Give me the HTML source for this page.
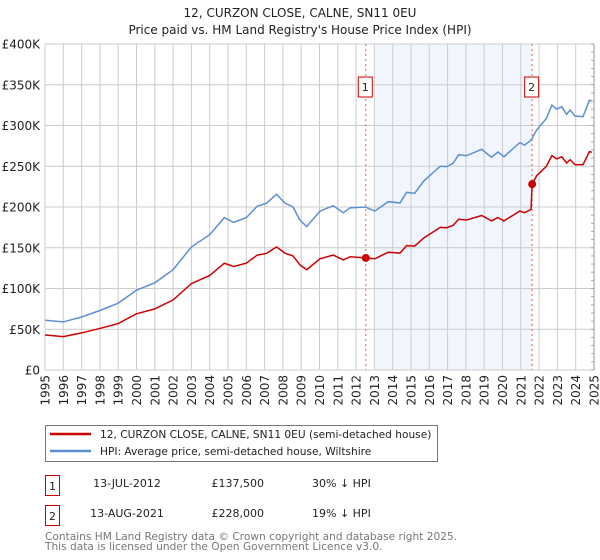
<!DOCTYPE html>
<html><head><meta charset="utf-8"><style>
body{margin:0;background:#fff;}
svg{display:block;font-family:"DejaVu Sans","Liberation Sans",sans-serif;}
</style></head><body>
<svg id="chart" width="600" height="560" viewBox="0 0 600 560">
<text x="300" y="17" text-anchor="middle" font-size="12" fill="#222">12, CURZON CLOSE, CALNE, SN11 0EU</text>
<text x="300" y="34" text-anchor="middle" font-size="12" fill="#222">Price paid vs. HM Land Registry's House Price Index (HPI)</text>
<g id="plot"></g>
<rect x="45.5" y="425.5" width="392" height="36" fill="#fff" stroke="#777"/>
<line x1="50" y1="434" x2="91" y2="434" stroke="#cc0000" stroke-width="2.5"/>
<text x="100" y="438" font-size="10.6" fill="#222">12, CURZON CLOSE, CALNE, SN11 0EU (semi-detached house)</text>
<line x1="50" y1="451" x2="91" y2="451" stroke="#5b8fd4" stroke-width="2.5"/>
<text x="100" y="455" font-size="10.6" fill="#222">HPI: Average price, semi-detached house, Wiltshire</text>
<rect x="45.5" y="475.5" width="14" height="20" fill="#fff" stroke="#cc0000"/>
<text x="52.5" y="490" text-anchor="middle" font-size="11" fill="#222">1</text>
<text x="127" y="487" text-anchor="middle" font-size="11" fill="#222">13-JUL-2012</text>
<text x="264" y="487" text-anchor="end" font-size="11" fill="#222">£137,500</text>
<text x="312" y="487" font-size="11" fill="#222">30% ↓ HPI</text>
<rect x="45.5" y="505.5" width="14" height="20" fill="#fff" stroke="#cc0000"/>
<text x="52.5" y="520" text-anchor="middle" font-size="11" fill="#222">2</text>
<text x="127" y="517" text-anchor="middle" font-size="11" fill="#222">13-AUG-2021</text>
<text x="264" y="517" text-anchor="end" font-size="11" fill="#222">£228,000</text>
<text x="312" y="517" font-size="11" fill="#222">19% ↓ HPI</text>
<text x="45" y="540" font-size="10.6" fill="#777">Contains HM Land Registry data © Crown copyright and database right 2025.</text>
<text x="45" y="550" font-size="10.6" fill="#777">This data is licensed under the Open Government Licence v3.0.</text>
</svg>
<script>
const hpiYears=[1995,1996,1997,1998,1999,2000,2001,2002,2003,2004,2004.8,2005.3,2006,2006.6,2007.1,2007.65,2008.1,2008.55,2008.93,2009.3,2010.03,2010.75,2011.3,2011.67,2012.5,2013.03,2013.75,2014.4,2014.76,2015.2,2015.7,2016.6,2016.95,2017.3,2017.6,2018.04,2018.86,2019.4,2019.75,2020.08,2020.95,2021.2,2021.56,2021.87,2022.4,2022.7,2022.96,2023.24,2023.5,2023.7,2023.96,2024.4,2024.75,2024.88];
const hpiValues=[61,59,65,73,82,98,107,123,151,166,187,181,187,201,204.5,215.6,205,200,184,176,195,201.6,193,199,200,195,206.5,205,218,216.8,232,250,249.5,253.6,264,263,270.8,261,267.5,261.7,279,276,282,294.5,308.8,325,320,323,313.7,319,311.6,310.8,331,330];
const priceYears=[1995,1996,1997,1998,1999,2000,2001,2002,2003,2004,2004.8,2005.3,2006,2006.6,2007.1,2007.65,2008.1,2008.55,2008.93,2009.3,2010.03,2010.75,2011.3,2011.67,2012.53,2013.03,2013.75,2014.4,2014.76,2015.2,2015.7,2016.6,2016.95,2017.3,2017.6,2018.04,2018.86,2019.4,2019.75,2020.08,2020.95,2021.2,2021.56,2021.62,2021.87,2022.4,2022.7,2022.96,2023.24,2023.5,2023.7,2023.96,2024.4,2024.75,2024.88];
const priceValues=[43,41,45.5,51,57,69,75,86,106,116,131,127,131,141,143,151,143.5,140,129,123,136.5,141,135,139,137.5,136.5,144.5,143.5,152.6,152,162,175,174.6,177.5,185,184,189.6,183,187,183,195,193,197,228,238.5,250,263,259,261.6,254,258,252,252,268,267];
const saleYears=[2012.53,2021.62];
const saleValues=[137.5,228];
const saleLabels=["1","2"];
const yTicks=[0,50,100,150,200,250,300,350,400];
const yTickLabels=["£0","£50K","£100K","£150K","£200K","£250K","£300K","£350K","£400K"];
const xTicks=[1995,1996,1997,1998,1999,2000,2001,2002,2003,2004,2005,2006,2007,2008,2009,2010,2011,2012,2013,2014,2015,2016,2017,2018,2019,2020,2021,2022,2023,2024,2025];

const NS="http://www.w3.org/2000/svg";
const X0=45,X1=594,Y0=370,Y1=44;
const xs=v=>X0+(v-1995)/30*(X1-X0);
const ys=v=>Y0-v/400*(Y0-Y1);
const g=document.getElementById('plot');
function mk(t,a){const e=document.createElementNS(NS,t);for(const k in a)e.setAttribute(k,a[k]);g.appendChild(e);return e;}
const sh=mk('rect',{x:xs(2013.05),y:Y1,width:xs(saleYears[1])-xs(2013.05),height:Y0-Y1,fill:'#eef3fc',opacity:0.8});


yTicks.forEach((t,i)=>{
  const l=mk('line',{x1:X0,x2:X1,y1:ys(t),y2:ys(t),stroke:'#cccccc','stroke-width':1});
  
  
  const tx=mk('text',{x:40,y:ys(t)+4.5,'text-anchor':'end','font-size':12,fill:'#222'});
  tx.textContent=yTickLabels[i];
  
  
});
xTicks.forEach(t=>{
  const l=mk('line',{x1:xs(t),x2:xs(t),y1:Y1,y2:Y0,stroke:'#cccccc','stroke-width':1});
  
  
  const tx=mk('text',{x:0,y:0,'text-anchor':'end','font-size':12,fill:'#222',transform:`translate(${xs(t)+4.5},375) rotate(-90)`});
  tx.textContent=t;
  
  
});
for(let v=0;v<=400;v+=10){const l=mk('line',{x1:X1-3,x2:X1,y1:ys(v),y2:ys(v),stroke:'#999','stroke-width':0.8});
  
  }
const ax=mk('line',{x1:X1,x2:X1,y1:Y1,y2:Y0,stroke:'#999','stroke-width':1});


saleYears.forEach((s,i)=>{
  const l=mk('line',{x1:xs(s),x2:xs(s),y1:Y1,y2:Y0,stroke:'#e06060','stroke-width':1,'stroke-dasharray':'2,3'});
  
  
  const b=mk('rect',{x:xs(s)-7.5,y:77,width:14,height:20,fill:'#fff',stroke:'#cc0000'});
  
  
  const tx=mk('text',{x:xs(s)-0.5,y:91,'text-anchor':'middle','font-size':11,fill:'#222'});
  tx.textContent=saleLabels[i];
  
  
});
const hp=mk('polyline',{points:hpiYears.map((y,i)=>xs(y)+','+ys(hpiValues[i])).join(' '),fill:'none',stroke:'#5b8fd4','stroke-width':1.5});


const pp=mk('polyline',{points:priceYears.map((y,i)=>xs(y)+','+ys(priceValues[i])).join(' '),fill:'none',stroke:'#cc0000','stroke-width':1.5});


saleYears.forEach((s,i)=>{
  const c=mk('circle',{cx:xs(s),cy:ys(saleValues[i]),r:4,fill:'#cc0000'});
  
  
});
</script>
</body></html>
